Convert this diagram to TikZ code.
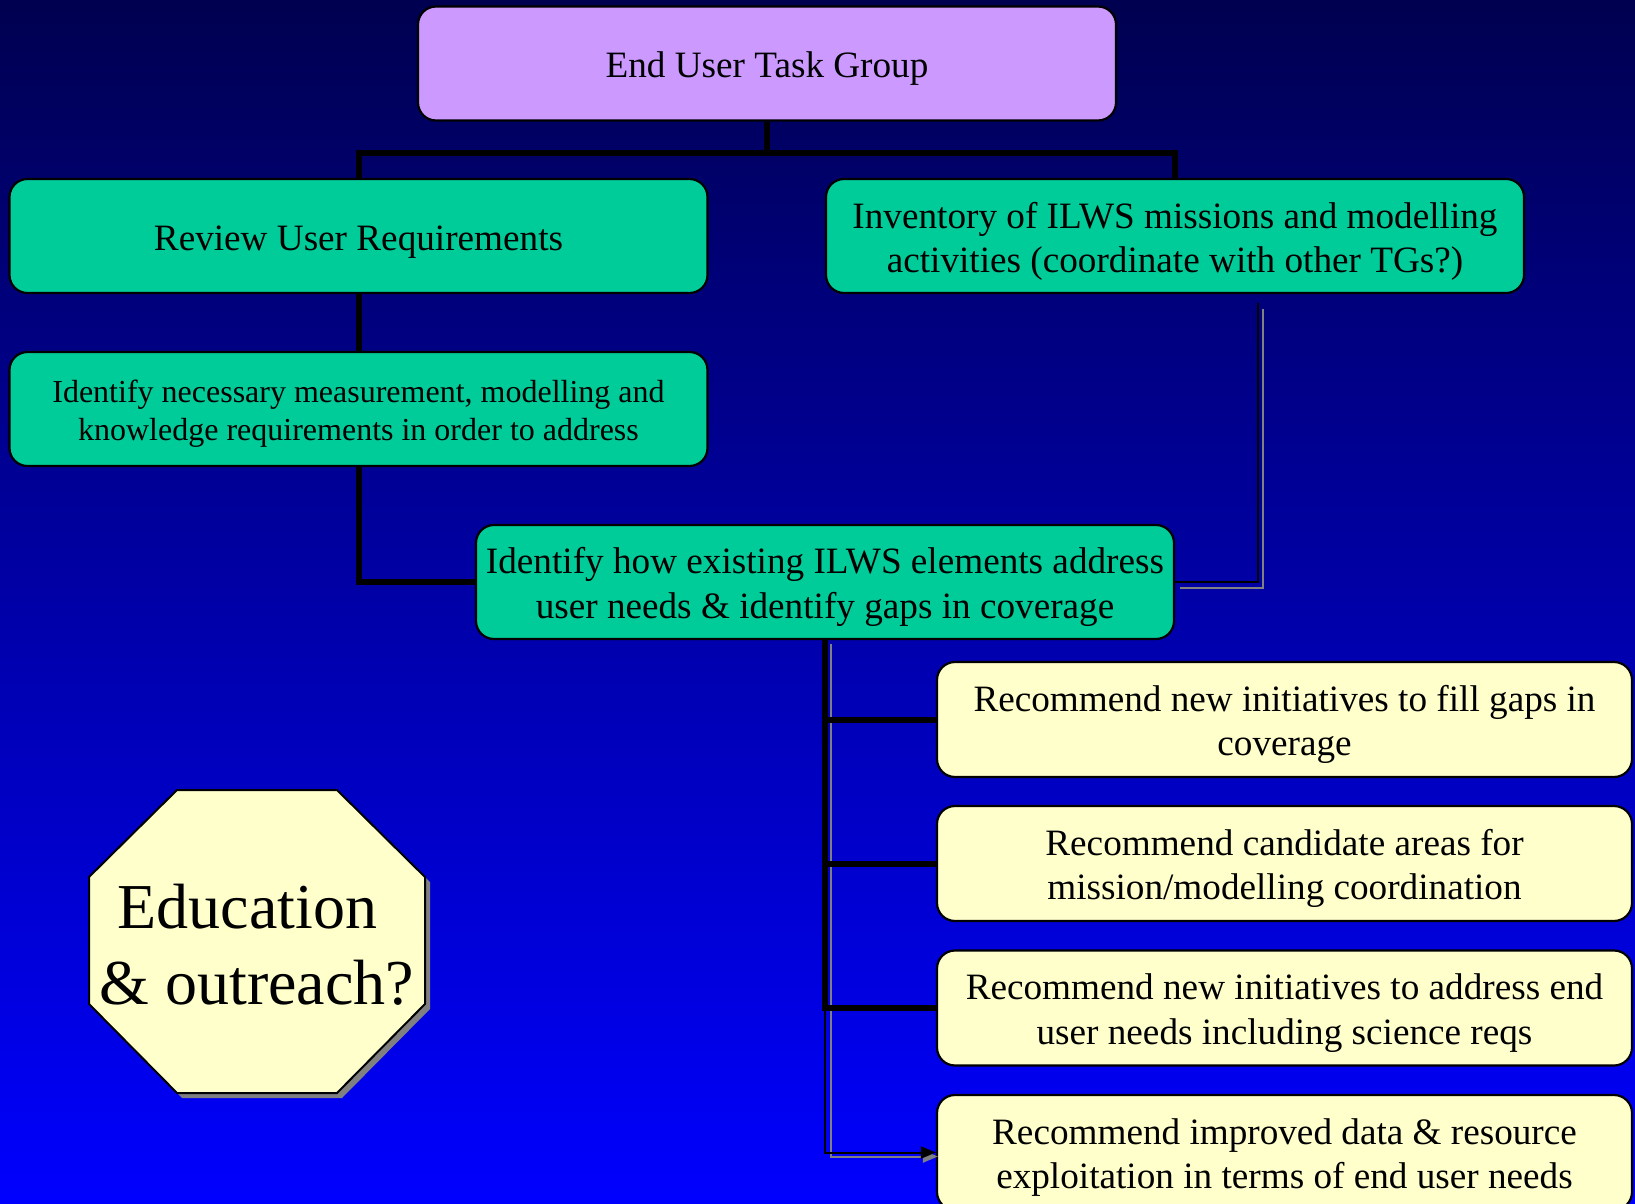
\documentclass[tikz,border=0pt]{standalone}
\usepackage{fontspec}
\setmainfont{Liberation Serif}
\usetikzlibrary{arrows.meta,calc}
\definecolor{bgtop}{RGB}{0,0,80}
\definecolor{bgbot}{RGB}{0,0,255}
\definecolor{lav}{RGB}{204,153,255}
\definecolor{grn}{RGB}{0,204,153}
\definecolor{ylw}{RGB}{255,255,204}
\definecolor{shd}{RGB}{128,128,128}
\begin{document}
\begin{tikzpicture}[x=0.5pt,y=-0.5pt,
  box/.style={draw=black,line width=1.1pt,rounded corners=9pt,align=center,inner sep=0pt,
    minimum width=349pt,minimum height=57pt,font=\fontsize{18.6}{22.2}\selectfont,text height=18.1pt},
  twobox/.style={box,text height=40.4pt},
  smallbox/.style={box,font=\fontsize{16}{18.8}\selectfont,text height=34.7pt},
  recbox/.style={twobox,fill=ylw,minimum width=347.5pt,minimum height=57.5pt},
  thickline/.style={draw=black,line width=3pt},
  thinline/.style={draw=black,line width=1pt},
  shadowline/.style={draw=shd,line width=1pt},
  tipstyle/.style={-{Triangle[length=7.5pt,width=6pt]}}
]
\useasboundingbox (0,0) rectangle (1635,1204);
\clip (0,0) rectangle (1635,1204);
\shade[top color=bgtop,bottom color=bgbot] (0,0) rectangle (1635,1204);

% nodes
\node[box,fill=lav] (top) at (767,63.5) {End User Task Group};
\node[box,fill=grn] (review) at (358.5,236) {Review User Requirements};
\node[twobox,fill=grn] (inv) at (1175,236) {Inventory of ILWS missions and modelling\\activities (coordinate with other TGs?)};
\node[smallbox,fill=grn] (need) at (358.5,409) {Identify necessary measurement, modelling and\\knowledge requirements in order to address};
\node[twobox,fill=grn] (how) at (825,582) {Identify how existing ILWS elements address\\user needs \& identify gaps in coverage};
\node[recbox] (rec1) at (1284.5,719.5) {Recommend new initiatives to fill gaps in\\coverage};
\node[recbox] (rec2) at (1284.5,863.5) {Recommend candidate areas for\\mission/modelling coordination};
\node[recbox] (rec3) at (1284.5,1008) {Recommend new initiatives to address end\\user needs including science reqs};
\node[recbox] (rec4) at (1284.5,1152.5) {Recommend improved data \& resource\\exploitation in terms of end user needs};

% tree connectors
\coordinate (bar) at ($(top.south)+(0,31)$);
\draw[thickline] (top.south) -- (bar) -| (review.north);
\draw[thickline] (bar) -| (inv.north);
\draw[thickline] (review.south) -- (need.north);
\draw[thickline] (need.south) |- (how.west);

% inventory -> how (thin with shadow)
\coordinate (invc) at (1258,303);
\draw[shadowline] ($(invc)+(5,6)$) |- ($(how.east)+(5,6)$);
\draw[thinline] (invc) |- (how.east);

% how -> rec4 (thin with shadow and arrow)
\draw[shadowline,tipstyle] ($(how.south)+(6,4)$) |- ($(rec4.west)+(2,4)$);
\draw[thinline,tipstyle] (how.south) |- (rec4.west);

% how -> rec1..3 (thick)
\draw[thickline] (how.south) |- (rec1.west);
\draw[thickline] (how.south) |- (rec2.west);
\draw[thickline] (how.south) |- (rec3.west);

% octagon
\fill[shd] (182,795) -- (342,795) -- (430,882) -- (430,1009) -- (342,1098) -- (182,1098) -- (94,1009) -- (94,882) -- cycle;
\draw[fill=ylw,draw=black,line width=1pt] (177,790) -- (337,790) -- (425,877) -- (425,1004) -- (337,1093) -- (177,1093) -- (89,1004) -- (89,877) -- cycle;
\node[align=center,inner sep=0pt,font=\fontsize{32}{38}\selectfont] (edu) at (257,945) {Education\hspace*{0.3em}\\\& outreach?};
\end{tikzpicture}
\end{document}
